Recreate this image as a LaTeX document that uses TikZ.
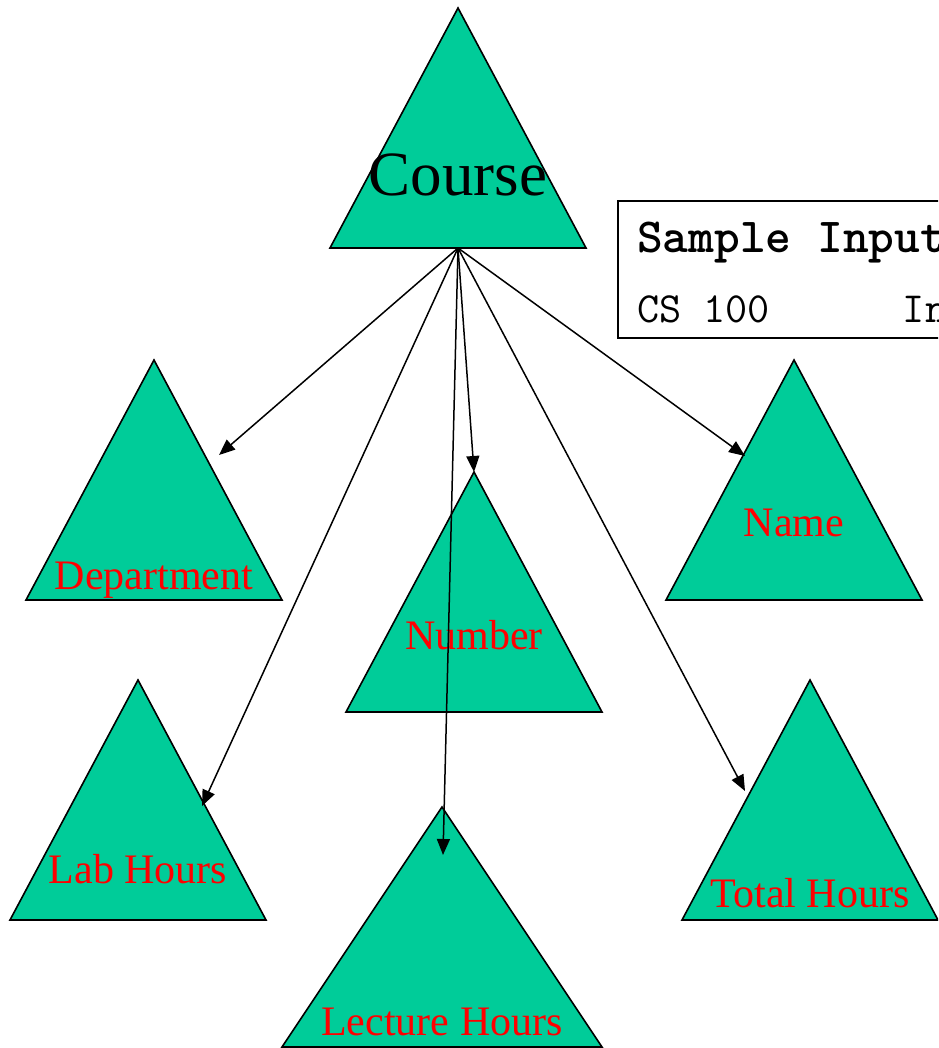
\documentclass[tikz,border=0pt]{standalone}
\usepackage{fontspec}
\setmainfont{Liberation Serif}
\usetikzlibrary{arrows.meta}
\definecolor{leaf}{RGB}{0,204,153}
\definecolor{labelred}{RGB}{255,0,0}
\tikzset{
  tri/.style={fill=leaf, draw=black, line width=1.6pt, line join=miter},
  rootlabel/.style={anchor=base, inner sep=0pt, text=black, font=\fontsize{63}{70}\selectfont},
  leaflabel/.style={anchor=base, inner sep=0pt, text=labelred, font=\fontsize{42}{48}\selectfont},
  link/.style={line width=1.5pt, -{Triangle[length=16pt,width=13pt]}},
  codebox/.style={draw=black, line width=2pt},
  codetitle/.style={anchor=base west, inner sep=0pt, font=\ttfamily\bfseries\fontsize{49}{54}\selectfont},
  codeline/.style={anchor=base west, inner sep=0pt, font=\ttfamily\fontsize{43}{48}\selectfont},
}
% triangle: apex (x,y), half base width, height
\newcommand\trinode[5]{%
  \draw[tri] (#2,#3) -- (#2-#4,#3+#5) -- (#2+#4,#3+#5) -- cycle;
  \coordinate (#1-apex) at (#2,#3);
  \coordinate (#1-base) at (#2,#3+#5);
}
\begin{document}
\begin{tikzpicture}[x=1pt,y=-1pt]
  \useasboundingbox (0,0) rectangle (938,1048);
  \clip (0,0) rectangle (938,1048);

  % triangles
  \trinode{course}{458}{8}{128}{240}
  \trinode{dept}{154}{360}{128}{240}
  \trinode{name}{794}{360}{128}{240}
  \trinode{number}{474}{472}{128}{240}
  \trinode{lab}{138}{680}{128}{240}
  \trinode{total}{810}{680}{128}{240}
  \trinode{lecture}{442}{807}{160}{240}

  % labels
  \node[rootlabel] (courseL) at (458,196) {Course};
  \node[leaflabel] (deptL) at (154,589) {Department};
  \node[leaflabel] (nameL) at (794,536) {Name};
  \node[leaflabel] (numberL) at (474,649) {Number};
  \node[leaflabel] (labL) at (138,883) {Lab Hours};
  \node[leaflabel] (totalL) at (810,907) {Total Hours};
  \node[leaflabel] (lectureL) at (442,1035) {Lecture Hours};

  % sample input box, running past the right edge
  \draw[codebox] (618,201) rectangle (960,338);
  \node[codetitle] (sampleT) at (637,253) {Sample Input};
  \node[codeline] (sampleL) at (637,322) {CS~100~~~~~~In};

  % arrow end points
  \coordinate (deptTip) at (219,455);
  \coordinate (labTip) at (202,806);
  \coordinate (numberTip) at (474,472);
  \coordinate (lectureTip) at (443,855);
  \coordinate (nameTip) at (745,456);
  \coordinate (totalTip) at (745,791);

  % connectors
  \draw[link] (course-base) -- (deptTip);
  \draw[link] (course-base) -- (labTip);
  \draw[link] (course-base) -- (numberTip);
  \draw[link] (course-base) -- (lectureTip);
  \draw[link] (course-base) -- (nameTip);
  \draw[link] (course-base) -- (totalTip);
\end{tikzpicture}
\end{document}
